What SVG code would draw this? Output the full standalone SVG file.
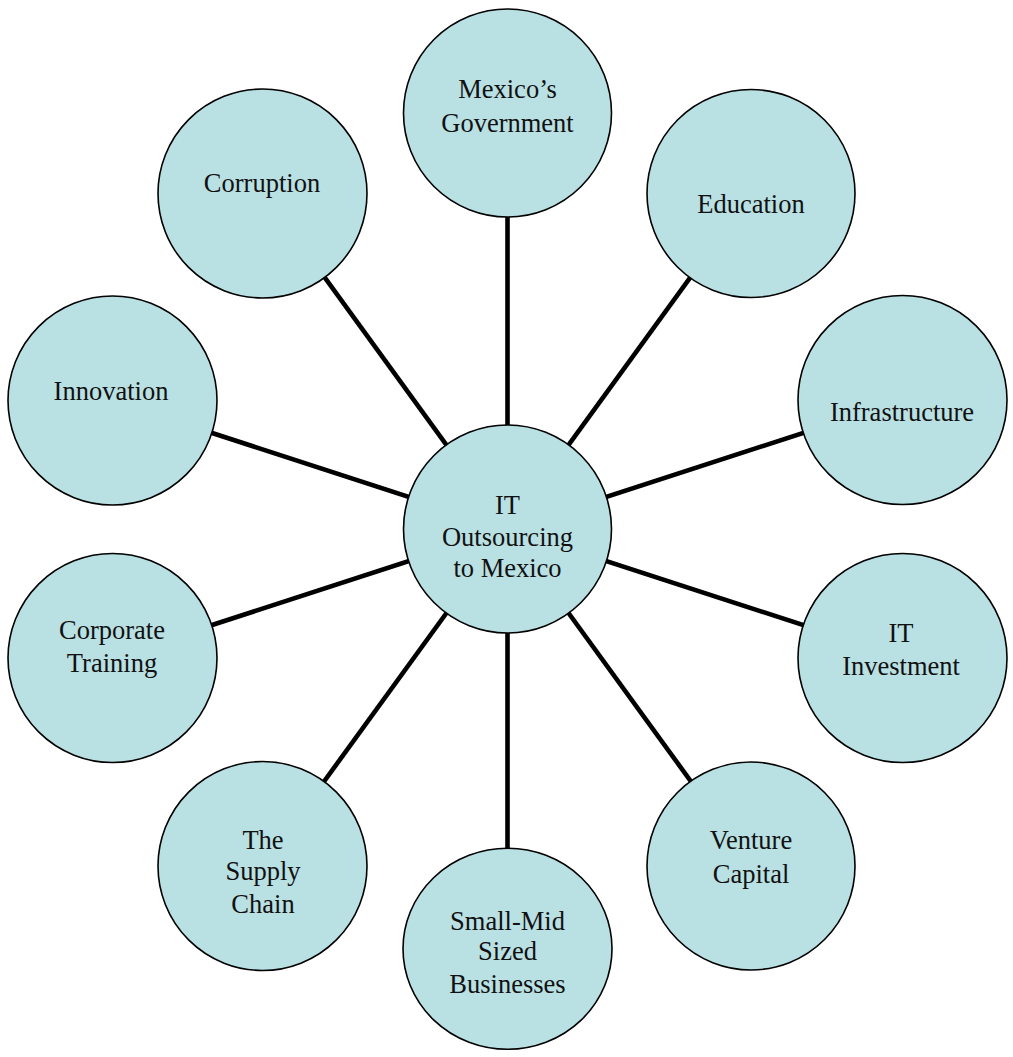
<svg xmlns="http://www.w3.org/2000/svg" width="1013" height="1057" viewBox="0 0 1013 1057">
<style>
.node{fill:#B9E0E3;stroke:#000;stroke-width:1.6}
.conn{stroke:#000;stroke-width:4.6;fill:none}
text{font-family:"Liberation Serif","Times New Roman",serif;font-size:26.5px;fill:#111;text-anchor:middle}
</style>
<rect width="1013" height="1057" fill="#fff"/>
<g id="connectors">
<line class="conn" x1="507.5" y1="529" x2="507.5" y2="113"/>
<line class="conn" x1="507.5" y1="529" x2="752" y2="192.5"/>
<line class="conn" x1="507.5" y1="529" x2="903" y2="400.5"/>
<line class="conn" x1="507.5" y1="529" x2="903" y2="657.5"/>
<line class="conn" x1="507.5" y1="529" x2="752" y2="865.5"/>
<line class="conn" x1="507.5" y1="529" x2="507.5" y2="948.8"/>
<line class="conn" x1="507.5" y1="529" x2="263" y2="865.5"/>
<line class="conn" x1="507.5" y1="529" x2="112" y2="657.5"/>
<line class="conn" x1="507.5" y1="529" x2="112" y2="400.5"/>
<line class="conn" x1="507.5" y1="529" x2="263" y2="192.5"/>
</g>
<g id="n-center"><circle class="node" cx="507.5" cy="529" r="104"/><text x="507.5" y="514">IT</text><text x="507.5" y="546">Outsourcing</text><text x="507.5" y="577">to Mexico</text></g>
<g id="n-government"><circle class="node" cx="507.5" cy="113" r="104"/><text x="507.5" y="98">Mexico’s</text><text x="507.5" y="132">Government</text></g>
<g id="n-education"><circle class="node" cx="751" cy="193.5" r="104"/><text x="751" y="213">Education</text></g>
<g id="n-infrastructure"><circle class="node" cx="902.5" cy="400" r="104.5"/><text x="902" y="421">Infrastructure</text></g>
<g id="n-itinvestment"><circle class="node" cx="902.5" cy="658" r="104.5"/><text x="901" y="642">IT</text><text x="901" y="675">Investment</text></g>
<g id="n-venture"><circle class="node" cx="751" cy="866" r="104"/><text x="751" y="849">Venture</text><text x="751" y="883">Capital</text></g>
<g id="n-smb"><ellipse class="node" cx="507.5" cy="948.8" rx="104.5" ry="100.5"/><text x="507.5" y="930">Small-Mid</text><text x="507.5" y="960">Sized</text><text x="507.5" y="993">Businesses</text></g>
<g id="n-supply"><circle class="node" cx="262.5" cy="866" r="104.5"/><text x="263" y="849">The</text><text x="263" y="880">Supply</text><text x="263" y="913">Chain</text></g>
<g id="n-training"><circle class="node" cx="112.5" cy="658" r="104.5"/><text x="112" y="639">Corporate</text><text x="112" y="672">Training</text></g>
<g id="n-innovation"><circle class="node" cx="112.5" cy="400.5" r="104.5"/><text x="111" y="400">Innovation</text></g>
<g id="n-corruption"><circle class="node" cx="262.5" cy="193.5" r="104.5"/><text x="262" y="192">Corruption</text></g>
</svg>
